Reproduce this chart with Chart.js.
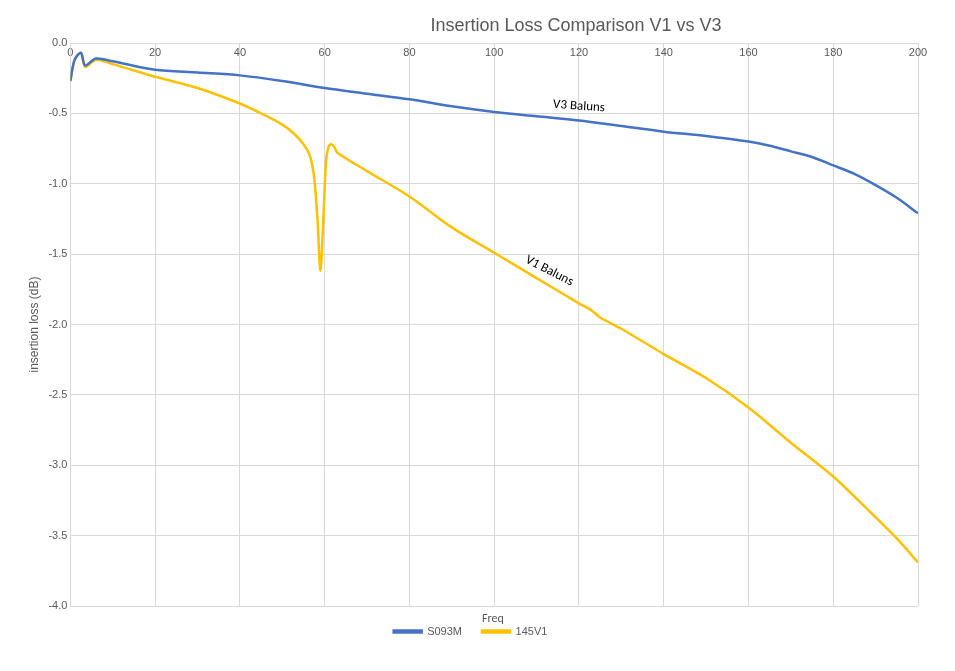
<!DOCTYPE html>
<html>
<head>
<meta charset="utf-8">
<script src="https://cdn.jsdelivr.net/npm/chart.js@4"></script>
<style>
  body { margin: 0; background: #fff; font-family: Calibri, "Liberation Sans", "Open Sans", sans-serif; }
  .wrap { position: relative; width: 955px; height: 671px; }
  .freq { position: absolute; left: 482px; top: 611px; font-size: 12px; color: #595959; }
  .title { position: absolute; left: 576px; top: 15px; transform: translateX(-50%); font-size: 18px; color: #595959; white-space: nowrap; font-family: "Liberation Sans", sans-serif; }
</style>
</head>
<body>
<div class="wrap">
  <canvas id="chart" width="955" height="671"></canvas>
  <div class="title">Insertion Loss Comparison V1 vs V3</div>
  <div class="freq">Freq</div>
</div>
<script>
const freqV3 = [0, 1, 2.5, 3.5, 6, 10, 20, 30, 40, 50, 60, 70, 80, 90, 100, 110, 120, 130, 140, 150, 160, 165, 170, 175, 180, 185, 190, 195, 200];
const lossV3 = [-0.27, -0.12, -0.07, -0.16, -0.11, -0.13, -0.19, -0.21, -0.23, -0.27, -0.32, -0.36, -0.40, -0.45, -0.49, -0.52, -0.55, -0.59, -0.63, -0.66, -0.70, -0.73, -0.77, -0.81, -0.87, -0.93, -1.01, -1.10, -1.21];
const freqV1 = [0, 1, 2.5, 3.5, 6, 10, 20, 30, 40, 45, 50, 53, 55, 56.5, 57.5, 58.3, 59, 59.7, 60.3, 60.8, 61.5, 62.3, 63, 70, 80, 90, 100, 110, 120, 123, 125, 130, 140, 150, 160, 170, 180, 190, 195, 200];
const lossV1 = [-0.27, -0.12, -0.07, -0.17, -0.12, -0.15, -0.24, -0.32, -0.43, -0.5, -0.58, -0.65, -0.72, -0.80, -0.95, -1.25, -1.62, -1.25, -0.85, -0.75, -0.72, -0.74, -0.78, -0.91, -1.09, -1.31, -1.49, -1.67, -1.85, -1.90, -1.95, -2.03, -2.21, -2.38, -2.59, -2.84, -3.08, -3.37, -3.52, -3.69];
const xTicks = [0, 20, 40, 60, 80, 100, 120, 140, 160, 180, 200];

const toPoints = (xs, ys) => xs.map((x, i) => ({ x, y: ys[i] }));

const labels = [
  { text: 'V3 Baluns', x: 120, y: -0.45, angle: 4 },
  { text: 'V1 Baluns', x: 113, y: -1.62, angle: 27 },
];

const curveLabels = {
  id: 'curveLabels',
  afterDatasetsDraw(chart) {
    const { ctx, scales } = chart;
    ctx.save();
    ctx.font = '13px Calibri, "Liberation Sans", sans-serif';
    ctx.fillStyle = '#000';
    ctx.textAlign = 'center';
    labels.forEach((l) => {
      ctx.save();
      ctx.translate(scales.x.getPixelForValue(l.x), scales.y.getPixelForValue(l.y));
      ctx.rotate(l.angle * Math.PI / 180);
      ctx.fillText(l.text, 0, 0);
      ctx.restore();
    });
    ctx.restore();
  },
};

new Chart(document.getElementById('chart'), {
  type: 'scatter',
  data: {
    datasets: [
      { label: 'S093M', data: toPoints(freqV3, lossV3), showLine: true, borderColor: '#4472c4', backgroundColor: '#4472c4', borderWidth: 2.5, pointRadius: 0, tension: 0.3 },
      { label: '145V1', data: toPoints(freqV1, lossV1), showLine: true, borderColor: '#ffc000', backgroundColor: '#ffc000', borderWidth: 2.5, pointRadius: 0, tension: 0.3 },
    ],
  },
  options: {
    responsive: false,
    animation: false,
    layout: { padding: { left: 23, right: 37, top: 43, bottom: 24 } },
    plugins: {
      legend: { position: 'bottom', labels: { boxWidth: 28, boxHeight: 2, color: '#595959', font: { size: 11 }, padding: 20 } },
      tooltip: { enabled: false },
    },
    scales: {
      x: {
        type: 'linear', min: 0, max: 200, position: { y: 0 },
        afterBuildTicks: (axis) => { axis.ticks = xTicks.map((v) => ({ value: v })); },
        ticks: { color: '#595959', font: { size: 11 } },
        grid: { color: '#d9d9d9', drawTicks: false },
        border: { color: '#d9d9d9' },
      },
      y: {
        min: -4, max: 0,
        ticks: { stepSize: 0.5, color: '#595959', font: { size: 11 }, callback: (v) => v.toFixed(1) },
        grid: { color: '#d9d9d9', drawTicks: false },
        border: { color: '#d9d9d9' },
        title: { display: true, text: 'insertion loss (dB)', color: '#595959', font: { size: 12 } },
      },
    },
  },
  plugins: [curveLabels],
});
</script>
</body>
</html>
